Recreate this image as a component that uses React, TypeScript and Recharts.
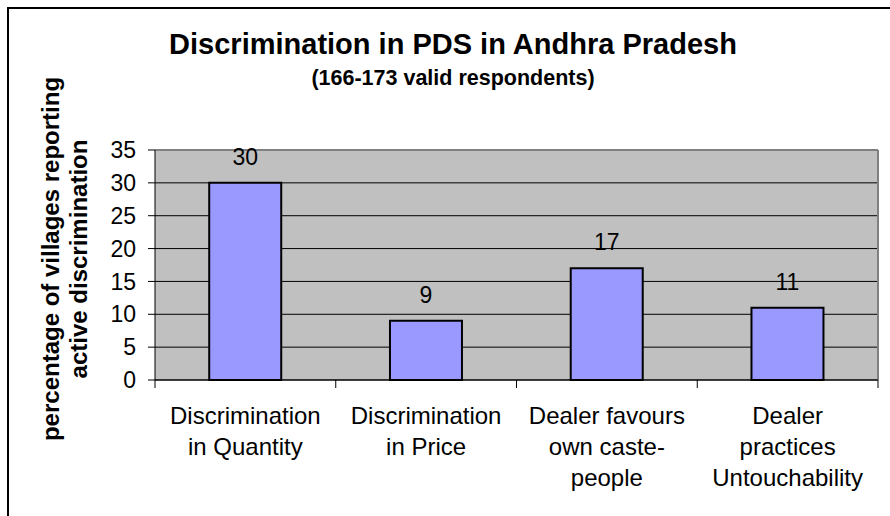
import React from 'react';
import { BarChart, Bar, XAxis, YAxis, CartesianGrid, LabelList, ReferenceLine } from 'recharts';

// categories keep the original line breaks of the axis labels
const categories = [
    'Discrimination\nin Quantity',
    'Discrimination\nin Price',
    'Dealer favours\nown caste-\npeople',
    'Dealer\npractices\nUntouchability',
];
const values = [30, 9, 17, 11];
const yTicks = [0, 5, 10, 15, 20, 25, 30, 35];
const yMax = 35;

const title = 'Discrimination in PDS in Andhra Pradesh';
const subtitle = '(166-173 valid respondents)';
const yTitle = ['percentage of villages reporting', 'active discrimination'];

const data = categories.map((name, i) => ({ name, value: values[i] }));

const font = "Arial, 'Liberation Sans', sans-serif";

// category label plus the Excel-style tick marks between categories
const CategoryTick = (props: any) => {
    const { x, y, payload, width, visibleTicksCount, index } = props;
    const lines = String(payload.value).split('\n');
    const band = width / visibleTicksCount;
    return (
        <g>
            <line x1={x - band / 2} x2={x - band / 2} y1={y} y2={y + 8} stroke='#000' />
            {index === visibleTicksCount - 1 && (
                <line x1={x + band / 2} x2={x + band / 2} y1={y} y2={y + 8} stroke='#000' />
            )}
            <text x={x} y={y + 44} textAnchor='middle' fontSize={24} fontFamily={font} fill='#000'>
                {lines.map((l, i) => (
                    <tspan key={i} x={x} dy={i === 0 ? 0 : 31}>{l}</tspan>
                ))}
            </text>
        </g>
    );
};

const App: React.FC = () => {
    return (
        <div style={{ position: 'absolute', left: 0, top: 0, width: 890, height: 516, overflow: 'hidden', background: '#fff' }}>
            <div style={{ position: 'absolute', left: 7, top: 7, width: 1000, height: 1000, border: '2px solid #000' }} />
            <div style={{ position: 'absolute', left: 0, top: 0 }}>
                <BarChart
                    width={890}
                    height={516}
                    data={data}
                    margin={{ top: 150, right: 12, bottom: 0, left: 0 }}
                    barCategoryGap='30%'
                >
                    <CartesianGrid xAxisId='cat' vertical={false} stroke='#000' fill='#C0C0C0' fillOpacity={1} />
                    <XAxis xAxisId='cat' dataKey='name' height={136} tickSize={0} tickMargin={0} tickLine={false} axisLine={{ stroke: '#000' }} tick={<CategoryTick />} interval={0} />
                    <YAxis
                        width={155}
                        domain={[0, yMax]}
                        ticks={yTicks}
                        interval={0}
                        tickSize={7}
                        tickMargin={12}
                        axisLine={{ stroke: '#000' }}
                        tickLine={{ stroke: '#000' }}
                        tick={{ fill: '#000', fontSize: 23, fontFamily: font }}
                    />
                    <ReferenceLine xAxisId='cat' y={yMax} stroke='#808080' strokeWidth={2} />
                    <ReferenceLine xAxisId='cat' x={categories[categories.length - 1]} position='end' stroke='#808080' strokeWidth={2} />
                    <Bar xAxisId='cat' dataKey='value' fill='#9999FF' stroke='#000' strokeWidth={2} isAnimationActive={false}>
                        <LabelList dataKey='value' position='top' offset={18} fill='#000' fontSize={23} fontFamily={font} />
                    </Bar>
                </BarChart>
            </div>
            <svg width={890} height={516} style={{ position: 'absolute', left: 0, top: 0, pointerEvents: 'none' }}>
                <text x={453} y={54} textAnchor='middle' fontSize={29} fontWeight='bold' fontFamily={font} fill='#000'>{title}</text>
                <text x={453} y={85} textAnchor='middle' fontSize={21.5} fontWeight='bold' fontFamily={font} fill='#000'>{subtitle}</text>
                <text transform='translate(59,259) rotate(-90)' textAnchor='middle' fontSize={24} fontWeight='bold' fontFamily={font} fill='#000'>{yTitle[0]}</text>
                <text transform='translate(87,259) rotate(-90)' textAnchor='middle' fontSize={24} fontWeight='bold' fontFamily={font} fill='#000'>{yTitle[1]}</text>
            </svg>
        </div>
    );
}

export default App
